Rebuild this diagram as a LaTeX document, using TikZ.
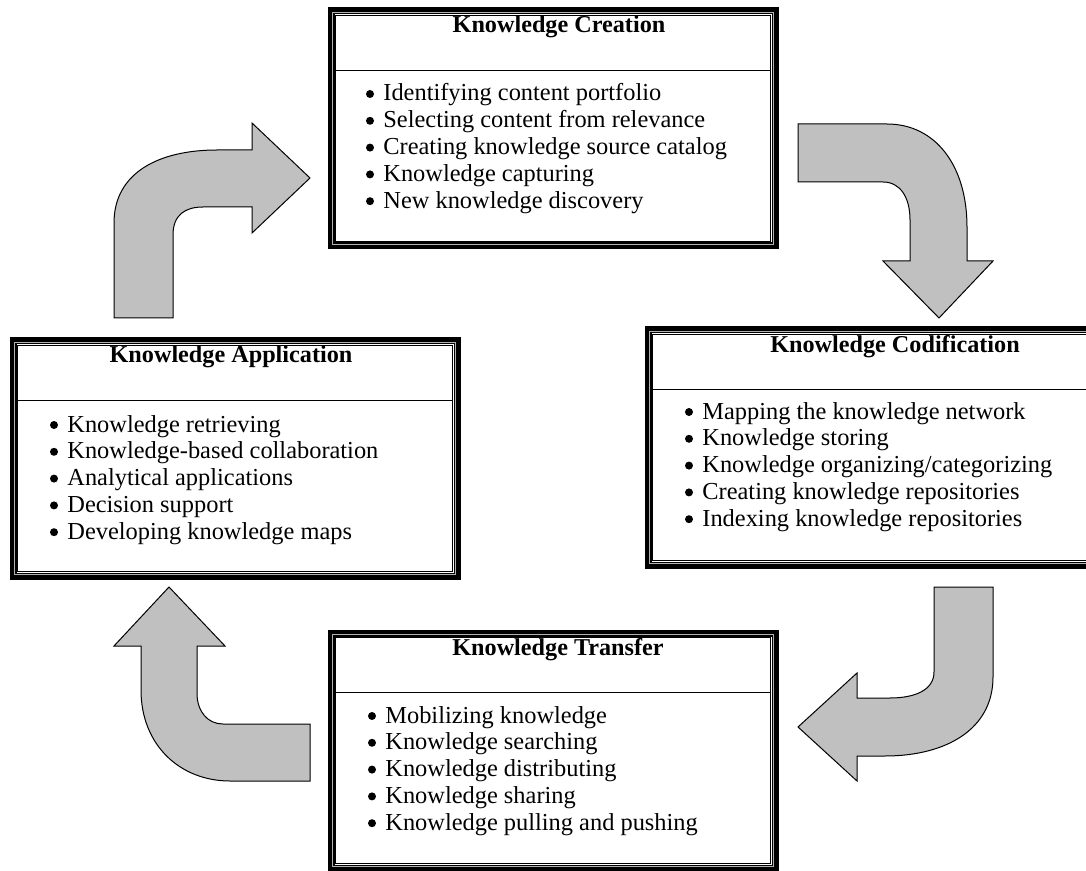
\documentclass[tikz,border=0pt]{standalone}
\usepackage{fontspec}
\setmainfont{Liberation Serif}

\definecolor{arrowgrey}{RGB}{192,192,192}

\tikzset{
  kbox/.style={draw=black, line width=3.5pt, minimum width=222pt, minimum height=117.5pt, inner sep=0pt},
  kframe/.style={draw=black, line width=0.6pt},
  kgrey/.style={draw=gray!60, line width=0.5pt},
  ktitle/.style={anchor=base, inner sep=0pt, font=\fontsize{12.1}{14}\selectfont\bfseries},
  kitem/.style={anchor=base west, inner sep=0pt, font=\fontsize{12.2}{14}\selectfont},
  bigarrow/.style={fill=arrowgrey, draw=black, line width=0.5pt, line join=miter},
}

\begin{document}
\begin{tikzpicture}[x=0.5pt, y=-0.5pt]
\useasboundingbox (0,0) rectangle (1086,871);

%% boxes
\node[kbox] (creation) at (553,128.5) {};
\node[kbox] (codification) at (870,447.5) {};
\node[kbox] (application) at (235,458.5) {};
\node[kbox] (transfer) at (553,750.5) {};

%% inner frames and title rules
\foreach \b in {creation,codification,application,transfer} {
  \draw[kgrey] ([shift={(5,5)}]\b.north west) rectangle ([shift={(-5,-5)}]\b.south east);
  \draw[kframe] ([shift={(8,8)}]\b.north west) rectangle ([shift={(-8,-8)}]\b.south east);
  \draw[kframe] ([shift={(8,63)}]\b.north west) -- ([shift={(-8,63)}]\b.north east);
}

%% titles
\node[ktitle] (creationtitle) at (559,33) {Knowledge Creation};
\node[ktitle] (codificationtitle) at (895,353) {Knowledge Codification};
\node[ktitle] (applicationtitle) at (231,363) {Knowledge Application};
\node[ktitle] (transfertitle) at (558,655) {Knowledge Transfer};

%% bullet lists
\foreach \t [count=\i from 0] in {Identifying content portfolio, Selecting content from relevance,
    Creating knowledge source catalog, Knowledge capturing, New knowledge discovery} {
  \node[kitem] (cr\i) at (383,101+26.8*\i) {\t};
  \fill ([shift={(-13,-7)}]cr\i.base west) circle (2pt);
}
\foreach \t [count=\i from 0] in {Mapping the knowledge network, Knowledge storing,
    Knowledge organizing/categorizing, Creating knowledge repositories, Indexing knowledge repositories} {
  \node[kitem] (co\i) at (702,419+26.8*\i) {\t};
  \fill ([shift={(-13,-7)}]co\i.base west) circle (2pt);
}
\foreach \t [count=\i from 0] in {Knowledge retrieving, Knowledge-based collaboration,
    Analytical applications, Decision support, Developing knowledge maps} {
  \node[kitem] (ap\i) at (67,432+26.8*\i) {\t};
  \fill ([shift={(-13,-7)}]ap\i.base west) circle (2pt);
}
\foreach \t [count=\i from 0] in {Mobilizing knowledge, Knowledge searching,
    Knowledge distributing, Knowledge sharing, Knowledge pulling and pushing} {
  \node[kitem] (tr\i) at (385,723+26.8*\i) {\t};
  \fill ([shift={(-13,-7)}]tr\i.base west) circle (2pt);
}

%% bent arrows
\draw[bigarrow] (114,318) -- (114,223) .. controls (114,172) and (160,150) .. (217,150)
  -- (252,150) -- (252,123) -- (310,178) -- (252,233) -- (252,207) -- (203,207)
  .. controls (185,207) and (173,215) .. (173,235) -- (173,318) -- cycle; %% application -> creation
\draw[bigarrow] (798,124) -- (887,124) .. controls (935,124) and (967,165) .. (967,227)
  -- (967,261) -- (993,261) -- (939,318) -- (883,261) -- (910,261) -- (910,220)
  .. controls (910,197) and (900,182) .. (883,182) -- (798,182) -- cycle; %% creation -> codification
\draw[bigarrow] (934,587) -- (993,587) -- (993,677) .. controls (993,730) and (945,756) .. (885,756)
  -- (857,756) -- (857,781) -- (798,727) -- (857,673) -- (857,698) -- (890,698)
  .. controls (915,698) and (934,690) .. (934,672) -- cycle; %% codification -> transfer
\draw[bigarrow] (310,724) -- (310,781) -- (230,781) .. controls (180,781) and (141,745) .. (141,690)
  -- (141,646) -- (114,646) -- (169,587) -- (225,646) -- (197,646) -- (197,693)
  .. controls (197,712) and (208,724) .. (223,724) -- cycle; %% transfer -> application
\end{tikzpicture}
\end{document}
